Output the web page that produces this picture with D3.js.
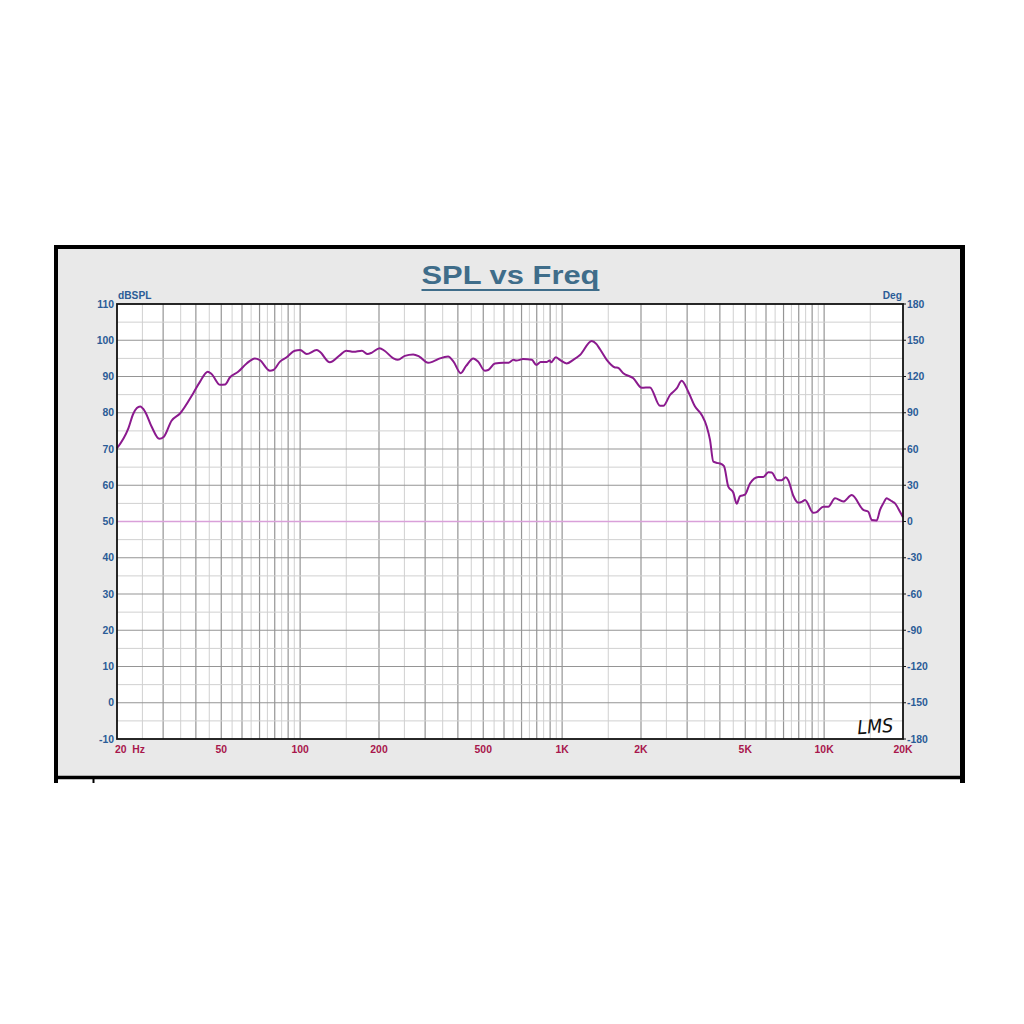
<!DOCTYPE html>
<html>
<head>
<meta charset="utf-8">
<script src="https://cdn.jsdelivr.net/npm/d3@7"></script>
<style>
  html, body { margin: 0; padding: 0; background: #ffffff; }
  svg { display: block; }
</style>
</head>
<body>
<svg id="chart" width="1024" height="1024"></svg>
<script>
// ---------- DATA ----------
const titleText = "SPL vs Freq";
const freq = [20, 22.1, 23.1, 24.5, 25.6, 27.1, 29.0, 30.2, 32.3, 34.8, 39.1, 41.5, 44.4, 45.9, 49.5, 51.7, 54.0, 58.0, 62.5, 67.2, 70, 76.7, 79, 83.8, 88.8, 95.4, 100, 106, 115.6, 119, 129.8, 142, 150, 160, 172, 181, 188, 201, 210, 227, 236, 251, 270, 285, 308, 321, 342, 367, 385, 410, 430, 458, 478, 507, 522, 554, 596, 624, 652, 669, 709, 766, 797, 828, 872, 896, 908, 946, 980, 1041, 1103, 1170, 1297, 1350, 1395, 1480, 1592, 1633, 1712, 1870, 2012, 2164, 2364, 2434, 2580, 2737, 2860, 3030, 3216, 3410, 3563, 3668, 3776, 3945, 4006, 4148, 4308, 4500, 4638, 4776, 4988, 5212, 5608, 5860, 6124, 6308, 6627, 6888, 7134, 7298, 7627, 7969, 8252, 8453, 9092, 9368, 9929, 10372, 11006, 11836, 12742, 14112, 14746, 15192, 15874, 16342, 16824, 17336, 17580, 18114, 18646, 19480, 20000];
const spl = [70.2, 75.7, 79.8, 81.7, 80.3, 76.2, 72.8, 73.4, 77.8, 79.8, 85.4, 88.6, 91.3, 90.7, 87.7, 87.8, 89.8, 91.3, 93.6, 95.0, 94.6, 91.6, 91.8, 94.1, 95.3, 97.1, 97.3, 96.2, 97.3, 96.8, 93.9, 95.9, 97.1, 96.8, 97.1, 96.2, 96.6, 97.8, 97.1, 95.0, 94.6, 95.7, 96.1, 95.5, 93.8, 94.1, 95.0, 95.5, 94.1, 90.9, 92.9, 95.0, 94.1, 91.6, 91.8, 93.6, 93.8, 93.8, 94.6, 94.4, 94.8, 94.6, 93.2, 94.0, 94.0, 94.4, 93.9, 95.3, 94.6, 93.6, 94.6, 95.9, 99.8, 99.0, 97.5, 94.6, 92.5, 92.4, 90.9, 89.5, 86.9, 87.0, 81.9, 81.9, 84.9, 86.7, 88.8, 85.8, 81.7, 79.4, 76.2, 72.5, 66.5, 66.1, 66.0, 65.3, 59.6, 58.0, 54.9, 57.0, 57.4, 60.5, 62.3, 62.3, 63.6, 63.5, 61.4, 61.4, 62.2, 61.4, 57.1, 55.2, 55.5, 55.9, 52.4, 52.6, 54.1, 54.1, 56.4, 55.5, 57.3, 53.2, 52.7, 50.4, 50.3, 53.2, 55.0, 56.4, 56.2, 55.6, 55.0, 52.7, 51.2];
const phaseZeroDb = 50; // 0 deg reference line
const xTickValues = [20, 50, 100, 200, 500, 1000, 2000, 5000, 10000, 20000];
const xTickLabels = ["20  Hz", "50", "100", "200", "500", "1K", "2K", "5K", "10K", "20K"];
const yTickValues = [-10, 0, 10, 20, 30, 40, 50, 60, 70, 80, 90, 100, 110];
const degTickValues = [-180, -150, -120, -90, -60, -30, 0, 30, 60, 90, 120, 150, 180];
const leftAxisTitle = "dBSPL";
const rightAxisTitle = "Deg";
const logoText = "LMS";

// ---------- LAYOUT ----------
const svg = d3.select("#chart");
const L = 117, R = 903, T = 304, B = 739;
const x = d3.scaleLog().domain([20, 20000]).range([L, R]);
const y = d3.scaleLinear().domain([-10, 110]).range([B, T]);
const yDeg = d3.scaleLinear().domain([-180, 180]).range([B, T]);

const blue = "#2b5c97";
const red = "#a8164c";
const font = "'Liberation Sans', Arial, sans-serif";

// outer frame
svg.append("rect").attr("x", 56).attr("y", 247).attr("width", 906).attr("height", 530)
  .attr("fill", "#e9e9e9");
svg.append("line").attr("x1", 54).attr("x2", 965).attr("y1", 247).attr("y2", 247)
  .attr("stroke", "#000").attr("stroke-width", 4);
svg.append("line").attr("x1", 56).attr("x2", 56).attr("y1", 245).attr("y2", 783)
  .attr("stroke", "#000").attr("stroke-width", 4);
svg.append("line").attr("x1", 962.5).attr("x2", 962.5).attr("y1", 245).attr("y2", 783)
  .attr("stroke", "#000").attr("stroke-width", 5);
svg.append("line").attr("x1", 54).attr("x2", 965).attr("y1", 777.5).attr("y2", 777.5)
  .attr("stroke", "#000").attr("stroke-width", 3.5);
svg.append("line").attr("x1", 93.5).attr("x2", 93.5).attr("y1", 777).attr("y2", 783)
  .attr("stroke", "#000").attr("stroke-width", 2);

// plot background
svg.append("rect").attr("x", L).attr("y", T).attr("width", R - L).attr("height", B - T)
  .attr("fill", "#ffffff");

// vertical grid
const gridX = [];
[10, 100, 1000, 10000].forEach(d => {
  for (let m = 1; m <= 10; m += 0.5) {
    const f = m * d;
    if (f > 20 && f < 20000 && !gridX.some(g => Math.abs(g.f - f) < 1e-6)) {
      gridX.push({ f: f, major: Number.isInteger(m) });
    }
  }
});
svg.append("g").selectAll("line").data(gridX).join("line")
  .attr("x1", d => x(d.f)).attr("x2", d => x(d.f))
  .attr("y1", T).attr("y2", B)
  .attr("stroke", d => d.major ? "#959595" : "#d0d0d0")
  .attr("stroke-width", d => d.major ? 1.2 : 1);

// horizontal grid
const gridY = d3.range(-5, 110, 5);
svg.append("g").selectAll("line").data(gridY).join("line")
  .attr("x1", L).attr("x2", R)
  .attr("y1", d => y(d)).attr("y2", d => y(d))
  .attr("stroke", d => d % 10 === 0 ? "#959595" : "#d0d0d0")
  .attr("stroke-width", d => d % 10 === 0 ? 1.2 : 1);

// 0 deg line
svg.append("line").attr("x1", L).attr("x2", R)
  .attr("y1", y(phaseZeroDb)).attr("y2", y(phaseZeroDb))
  .attr("stroke", "#d9a0d9").attr("stroke-width", 1.5);

// SPL curve
const line = d3.line().x(d => x(d[0])).y(d => y(d[1])).curve(d3.curveMonotoneX);
svg.append("path").datum(freq.map((f, i) => [f, spl[i]]))
  .attr("d", line).attr("fill", "none")
  .attr("stroke", "#8b1a8e").attr("stroke-width", 2)
  .attr("stroke-linejoin", "round");

// plot border
svg.append("rect").attr("x", L).attr("y", T).attr("width", R - L).attr("height", B - T)
  .attr("fill", "none").attr("stroke", "#111").attr("stroke-width", 1.8);

// right ticks
svg.append("g").selectAll("line").data(degTickValues).join("line")
  .attr("x1", R).attr("x2", R + 3)
  .attr("y1", d => yDeg(d)).attr("y2", d => yDeg(d))
  .attr("stroke", "#111").attr("stroke-width", 1);

// left labels
svg.append("g").selectAll("text").data(yTickValues).join("text")
  .attr("x", L - 3).attr("y", d => y(d)).attr("dy", "0.36em")
  .attr("text-anchor", "end")
  .attr("font-family", font).attr("font-weight", "bold").attr("font-size", 10.4)
  .attr("fill", blue).text(d => d);

// right labels
svg.append("g").selectAll("text").data(degTickValues).join("text")
  .attr("x", R + 4).attr("y", d => yDeg(d)).attr("dy", "0.36em")
  .attr("text-anchor", "start")
  .attr("font-family", font).attr("font-weight", "bold").attr("font-size", 10.4)
  .attr("fill", blue).text(d => d);

// x labels
svg.append("g").selectAll("text").data(xTickValues).join("text")
  .attr("x", (d, i) => i === 0 ? x(d) - 2 : x(d))
  .attr("y", 752.5)
  .attr("text-anchor", (d, i) => i === 0 ? "start" : "middle")
  .attr("font-family", font).attr("font-weight", "bold").attr("font-size", 10.4)
  .attr("fill", red).attr("xml:space", "preserve")
  .style("white-space", "pre")
  .text((d, i) => xTickLabels[i]);

// axis titles
svg.append("text").attr("x", L + 1).attr("y", 299)
  .attr("font-family", font).attr("font-weight", "bold").attr("font-size", 10.2)
  .attr("fill", blue).text(leftAxisTitle);
svg.append("text").attr("x", R - 1).attr("y", 299).attr("text-anchor", "end")
  .attr("font-family", font).attr("font-weight", "bold").attr("font-size", 10.2)
  .attr("fill", blue).text(rightAxisTitle);

// title
svg.append("text").attr("x", 421.5).attr("y", 284)
  .attr("font-family", font).attr("font-weight", "bold").attr("font-size", 25.5)
  .attr("textLength", 178).attr("lengthAdjust", "spacingAndGlyphs")
  .attr("fill", "#3f6d8a").text(titleText);
svg.append("line").attr("x1", 421.5).attr("x2", 599.5).attr("y1", 290).attr("y2", 290)
  .attr("stroke", "#3f6d8a").attr("stroke-width", 2.2);

// logo
svg.append("text").attr("x", 857).attr("y", 733)
  .attr("font-family", "'DejaVu Sans', sans-serif").attr("font-style", "italic")
  .attr("font-size", 19).attr("textLength", 36).attr("lengthAdjust", "spacingAndGlyphs")
  .attr("fill", "#111").attr("transform", "rotate(-4 875 724)")
  .text(logoText);
</script>
</body>
</html>
